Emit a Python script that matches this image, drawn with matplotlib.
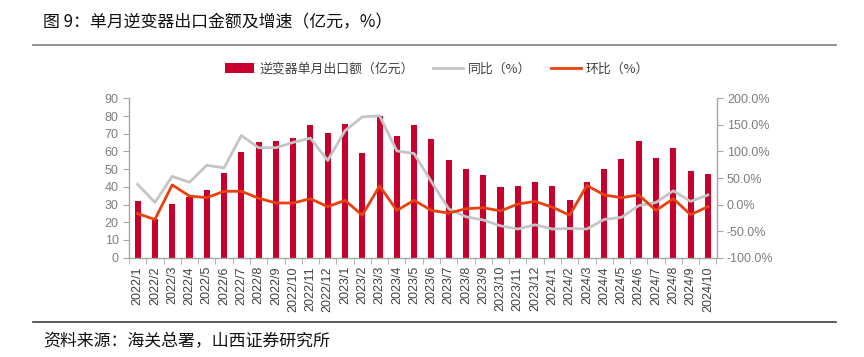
import numpy as np
import matplotlib
matplotlib.use("Agg")
import matplotlib.pyplot as plt
from matplotlib.ticker import FuncFormatter

plt.rcParams['font.family'] = ['Liberation Sans', 'Noto Sans CJK SC', 'DejaVu Sans']

## data ##
months = ["2022/1", "2022/2", "2022/3", "2022/4", "2022/5", "2022/6", "2022/7", "2022/8",
          "2022/9", "2022/10", "2022/11", "2022/12", "2023/1", "2023/2", "2023/3", "2023/4",
          "2023/5", "2023/6", "2023/7", "2023/8", "2023/9", "2023/10", "2023/11", "2023/12",
          "2024/1", "2024/2", "2024/3", "2024/4", "2024/5", "2024/6", "2024/7", "2024/8",
          "2024/9", "2024/10"]
export_amt = [31.8, 22.0, 30.1, 34.5, 38.2, 47.6, 59.5, 65.1, 65.9, 67.6, 74.9, 70.6,
              75.3, 59.1, 80.0, 68.6, 74.9, 67.0, 55.0, 49.9, 46.9, 40.1, 40.6, 43.0,
              40.5, 32.4, 42.9, 49.9, 55.9, 65.7, 56.3, 61.9, 49.1, 47.0]
yoy = [38, 4, 53, 42, 74, 69, 130, 107, 107, 117, 125, 83,
       139, 165, 167, 101, 96, 43, -8, -23, -29, -40, -46, -38,
       -46, -45, -46, -28, -24, -2, 4, 26, 6, 18]
mom = [-17, -28, 37, 16, 13, 25, 25, 12, 3, 3, 11, -4,
       8, -20, 35, -11, 8, -11, -16, -8, -6, -12, 1, 6,
       -5, -20, 36, 18, 13, 18, -11, 11, -19, -4]

bar_color = '#C8002E'
gray_color = '#C4C4C4'
orange_color = '#E8410F'
tick_color = '#7F7F7F'
spine_color = '#A6A6A6'
cjk = ['Noto Sans CJK SC', 'DejaVu Sans']

fig = plt.figure(figsize=(8.64, 3.57), dpi=100)
ax = fig.add_axes([129 / 864, 1 - 257.7 / 357, (716.5 - 129) / 864, (257.7 - 98.3) / 357])
ax2 = ax.twinx()

x = np.arange(len(months))
b = ax.bar(x, export_amt, width=0.35, color=bar_color, zorder=2)
l1, = ax2.plot(x, yoy, color=gray_color, lw=2.0, zorder=3)
l2, = ax2.plot(x, mom, color=orange_color, lw=2.0, zorder=4)

ax.set_zorder(ax2.get_zorder() - 1)
ax.patch.set_visible(False)

ax.set_xlim(-0.5, len(months) - 0.5)
ax.set_ylim(0, 90)
ax.set_yticks(np.arange(0, 91, 10))
ax2.set_ylim(-100, 200)
ax2.set_yticks(np.arange(-100, 201, 50))
ax2.yaxis.set_major_formatter(FuncFormatter(lambda v, p: '{:.1f}%'.format(v)))

ax.set_xticks(x)
ax.set_xticklabels(months, rotation=90, fontsize=9, color='#404040')
ax.set_xticks(np.arange(-0.5, len(months), 1), minor=True)
ax.tick_params(axis='x', which='major', length=0, pad=6)
ax.tick_params(axis='x', which='minor', length=4, color=spine_color, direction='out')
ax.tick_params(axis='y', labelsize=9, labelcolor=tick_color, color=spine_color, length=4)
ax2.tick_params(axis='y', labelsize=9, labelcolor=tick_color, color=spine_color, length=4)

for a in (ax, ax2):
    a.spines['top'].set_visible(False)
    for s in ('left', 'right', 'bottom'):
        a.spines[s].set_color(spine_color)
        a.spines[s].set_linewidth(1.0)
ax.spines['right'].set_visible(False)
ax2.spines['left'].set_visible(False)
ax2.spines['bottom'].set_visible(False)

leg = fig.legend([b, l1, l2], ['逆变器单月出口额（亿元）', '同比（%）', '环比（%）'],
                 loc='center', bbox_to_anchor=(437 / 864, 1 - 69 / 357), ncol=3,
                 frameon=False, handlelength=2.3, columnspacing=1.5,
                 handletextpad=0.4, prop={'family': cjk, 'size': 9.3})
for t in leg.get_texts():
    t.set_color('#404040')

# title, rules and source
fig.text(43 / 864, 1 - 22 / 357, '图 9：单月逆变器出口金额及增速（亿元，%）', fontsize=12.2,
         va='center', ha='left', color='#111111', family=cjk)
fig.add_artist(plt.Line2D([33 / 864, 836 / 864], [1 - 44.5 / 357] * 2, color='#7F7F7F', lw=1.2))
fig.add_artist(plt.Line2D([33 / 864, 836 / 864], [1 - 321.7 / 357] * 2, color='#404040', lw=1.2))
fig.text(43 / 864, 1 - 341 / 357, '资料来源：海关总署，山西证券研究所', fontsize=12.2,
         va='center', ha='left', color='#111111', family=cjk)

fig.savefig('out.png', dpi=100)
